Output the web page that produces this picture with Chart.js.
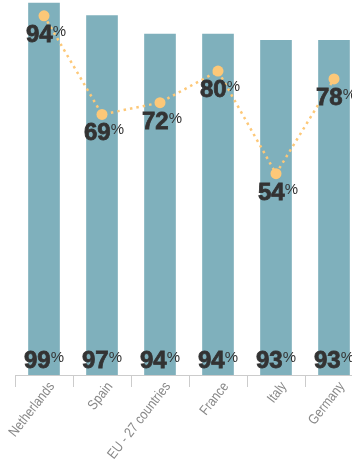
<!DOCTYPE html>
<html>
<head>
<meta charset="utf-8">
<script src="https://cdn.jsdelivr.net/npm/chart.js@4/dist/chart.umd.min.js"></script>
<style>
  html, body { margin: 0; padding: 0; background: #fff; overflow: hidden; }
  #wrap { width: 363px; height: 460px; }
</style>
</head>
<body>
<div id="wrap"><canvas id="chart" width="363" height="460"></canvas></div>
<script>
  // categories and series
  const countries = ['Netherlands', 'Spain', 'EU - 27 countries', 'France', 'Italy', 'Germany'];
  const barValues = [99, 97, 94, 94, 93, 93];
  const lineValues = [94, 69, 72, 80, 54, 78];

  const BAR_COLOR = '#7fb0bc';
  const LINE_COLOR = '#fdc878';
  const TEXT_COLOR = '#333333';
  const AXIS_COLOR = '#cccccc';

  // draws "99%" style labels: big heavy number, small percent sign
  let drawPct = (ctx, value, cx, baseline) => {
    ctx.save();
    ctx.fillStyle = TEXT_COLOR;
    ctx.strokeStyle = TEXT_COLOR;
    ctx.lineWidth = 0.8;
    ctx.textBaseline = 'alphabetic';
    ctx.textAlign = 'left';
    let bigFont = 'bold 24px "Liberation Sans", Arial, sans-serif';
    let smallFont = '15px "Liberation Sans", Arial, sans-serif';
    ctx.font = bigFont;
    let num = String(value);
    let wNum = ctx.measureText(num).width;
    ctx.font = smallFont;
    let wPct = ctx.measureText('%').width;
    let x0 = cx - (wNum + wPct) / 2;
    ctx.font = bigFont;
    ctx.fillText(num, x0, baseline);
    ctx.strokeText(num, x0, baseline);
    ctx.font = smallFont;
    ctx.fillText('%', x0 + wNum, baseline - 6);
    ctx.restore();
  };

  const labelsPlugin = {
    id: 'pctLabels',
    afterDatasetsDraw(chart) {
      let ctx = chart.ctx;
      let bottom = chart.chartArea.bottom;
      chart.getDatasetMeta(1).data.forEach((bar, i) => {
        drawPct(ctx, barValues[i], bar.x, bottom - 7);
      });
      chart.getDatasetMeta(0).data.forEach((pt, i) => {
        drawPct(ctx, lineValues[i], pt.x + 2, pt.y + 26);
      });
    }
  };

  // condensed, rotated category labels
  const xLabelsPlugin = {
    id: 'xLabels',
    afterDraw(chart) {
      let ctx = chart.ctx;
      let xs = chart.scales.x;
      let y = chart.chartArea.bottom + 9;
      ctx.save();
      ctx.fillStyle = '#888888';
      ctx.font = '14px "Liberation Sans", Arial, sans-serif';
      ctx.textAlign = 'right';
      ctx.textBaseline = 'middle';
      countries.forEach((name, i) => {
        let x = xs.getPixelForValue(i) + 8;
        ctx.save();
        ctx.translate(x, y);
        ctx.rotate(-52 * Math.PI / 180);
        ctx.scale(0.86, 1);
        ctx.fillText(name, 0, 0);
        ctx.restore();
      });
      ctx.restore();
    }
  };

  let ctx = document.getElementById('chart').getContext('2d');

  let chart = new Chart(ctx, {
    data: {
      labels: countries,
      datasets: [{
        type: 'line',
        data: lineValues,
        yAxisID: 'y2',
        order: 0,
        borderColor: LINE_COLOR,
        borderWidth: 2.5,
        borderDash: [2.5, 4],
        pointRadius: 5.5,
        pointBackgroundColor: LINE_COLOR,
        pointBorderWidth: 0,
        tension: 0,
        fill: false,
        clip: false
      }, {
        type: 'bar',
        data: barValues,
        yAxisID: 'y',
        order: 1,
        backgroundColor: BAR_COLOR,
        barThickness: 31
      }]
    },
    options: {
      responsive: false,
      animation: false,
      devicePixelRatio: 1,
      layout: { autoPadding: false, padding: { top: 0, left: 15, right: 0, bottom: 0 } },
      plugins: {
        legend: { display: false },
        tooltip: { enabled: false }
      },
      scales: {
        x: {
          offset: true,
          grid: {
            offset: true,
            drawOnChartArea: false,
            color: AXIS_COLOR,
            tickLength: 12
          },
          border: { color: AXIS_COLOR },
          ticks: { display: false },
          afterFit(scale) {
            scale.height = 85;
            scale.paddingLeft = 0;
            scale.paddingRight = 0;
          }
        },
        y: { display: false, min: 39, max: 99.5 },
        y2: { display: false, min: 3, max: 98 }
      }
    },
    plugins: [labelsPlugin, xLabelsPlugin]
  });
</script>
</body>
</html>
